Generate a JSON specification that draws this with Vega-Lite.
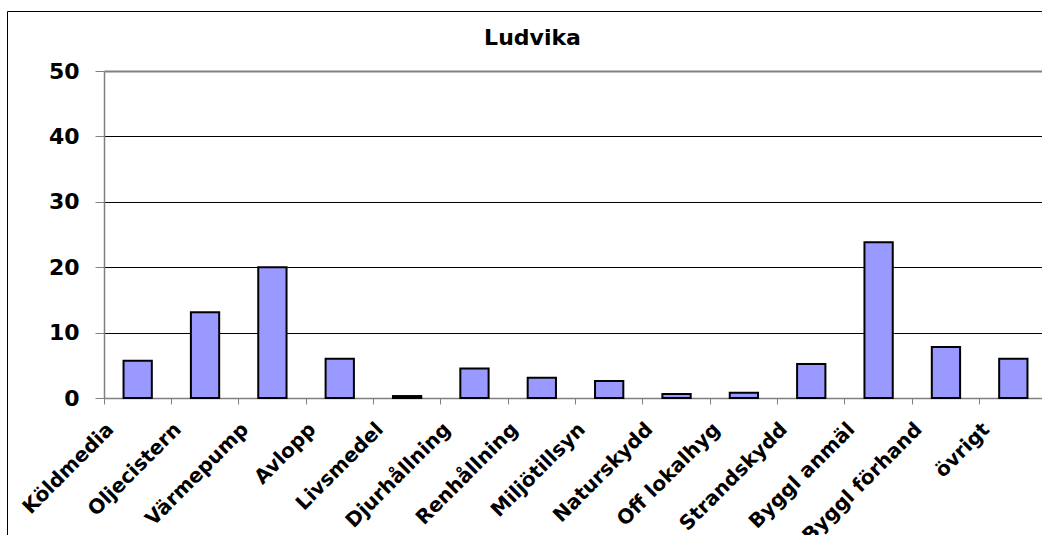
{
  "$schema": "https://vega.github.io/schema/vega-lite/v6.json",
  "autosize": "none",
  "padding": {"left": 7, "top": 11, "right": 0, "bottom": 0},
  "width": 1045,
  "height": 534,
  "background": "white",
  "title": {
    "text": "Ludvika",
    "font": "DejaVu Sans",
    "fontSize": 22,
    "fontWeight": "bold",
    "color": "#000",
    "anchor": "middle",
    "frame": "group",
    "baseline": "alphabetic",
    "offset": 0,
    "dy": 56,
    "dx": 3
  },
  "config": {"view": {"stroke": "#000", "strokeWidth": 1}},
  "data": {
    "values": [
      {"kategori": "Köldmedia", "antal": 5.7},
      {"kategori": "Oljecistern", "antal": 13.1},
      {"kategori": "Värmepump", "antal": 20.0},
      {"kategori": "Avlopp", "antal": 6.0},
      {"kategori": "Livsmedel", "antal": 0.3},
      {"kategori": "Djurhållning", "antal": 4.5},
      {"kategori": "Renhållning", "antal": 3.1},
      {"kategori": "Miljötillsyn", "antal": 2.6},
      {"kategori": "Naturskydd", "antal": 0.6},
      {"kategori": "Off lokalhyg", "antal": 0.8},
      {"kategori": "Strandskydd", "antal": 5.2},
      {"kategori": "Byggl anmäl", "antal": 23.8},
      {"kategori": "Byggl förhand", "antal": 7.8},
      {"kategori": "övrigt", "antal": 6.0}
    ]
  },
  "mark": {"type": "bar", "width": {"band": 0.42}, "color": "#9999FF", "stroke": "#000", "strokeWidth": 2},
  "encoding": {
    "x": {
      "field": "kategori",
      "type": "nominal",
      "sort": null,
      "scale": {"range": [97, 1040], "paddingInner": 0, "paddingOuter": 0},
      "axis": {
        "title": null,
        "orient": "bottom",
        "offset": -147,
        "bandPosition": 0,
        "labelAngle": -45,
        "labelAlign": "right",
        "labelBaseline": "middle",
        "labelFont": "DejaVu Sans",
        "labelFontSize": 20,
        "labelFontWeight": "bold",
        "labelColor": "#000",
        "labelOffset": -27,
        "labelPadding": 22,
        "labelOverlap": false,
        "labelBound": false,
        "labelLimit": 400,
        "tickSize": 6,
        "tickColor": "#808080",
        "domainColor": "#808080",
        "domainWidth": 1.5,
        "grid": false
      }
    },
    "y": {
      "field": "antal",
      "type": "quantitative",
      "scale": {"domain": [0, 50], "range": [387, 60], "nice": false, "zero": true},
      "axis": {
        "title": null,
        "offset": -97,
        "values": [0, 10, 20, 30, 40, 50],
        "tickSize": 9,
        "tickColor": "#808080",
        "domainColor": "#808080",
        "domainWidth": 1.5,
        "labelFont": "DejaVu Sans",
        "labelFontSize": 22,
        "labelFontWeight": "bold",
        "labelColor": "#000",
        "labelPadding": 16,
        "grid": true,
        "gridOpacity": 1,
        "gridColor": {"condition": {"test": "datum.value === 50 || datum.value === 0", "value": "#808080"}, "value": "#000"},
        "gridWidth": {"condition": {"test": "datum.value === 50", "value": 2}, "value": 1}
      }
    }
  }
}
